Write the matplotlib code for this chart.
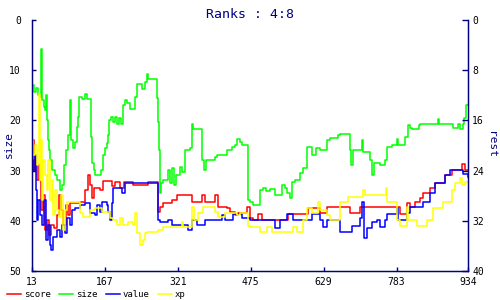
import matplotlib
matplotlib.use("Agg")
import matplotlib.pyplot as plt

navy = (0, 0, 0.5)
plt.rcParams['font.family'] = ['DejaVu Sans Mono']

# rank series, all in "size" axis units (0 top, 50 bottom)
score_x = [13, 15, 17, 19, 24, 28, 32, 36, 40, 45, 49, 53, 59, 66, 70, 74, 79, 85, 89, 93, 114, 125, 131, 136, 140, 144, 157, 163, 182, 188, 199, 207, 226, 258, 279, 283, 290, 309, 319, 351, 372, 378, 400, 406, 425, 431, 442, 448, 467, 474, 480, 490, 499, 554, 596, 621, 636, 685, 706, 790, 805, 812, 822, 833, 839, 854, 864, 885, 900, 921, 928, 934]
score_y = [25.9, 23.9, 29.9, 27.9, 31.9, 28.9, 37.8, 34.9, 41.8, 39.8, 42.8, 40.8, 41.4, 38.8, 34.9, 37.8, 40.8, 36.9, 38.8, 36.5, 36.3, 33.9, 30.9, 32.9, 35.5, 33.5, 33.9, 32.1, 33.1, 32.3, 33.5, 32.3, 32.9, 32.3, 38.2, 37.3, 36.5, 35.9, 34.9, 36.3, 34.9, 36.3, 34.9, 37.3, 37.5, 38.2, 38.8, 38.4, 37.3, 39.4, 39.8, 38.6, 39.8, 38.6, 37.5, 38.4, 37.3, 38.4, 37.3, 38.6, 36.5, 37.3, 36.3, 35.5, 34.5, 33.5, 32.5, 30.9, 29.9, 28.7, 29.9, 29.9]

size_x = [13, 17, 21, 26, 30, 32, 34, 38, 40, 43, 45, 47, 49, 51, 55, 62, 66, 72, 76, 81, 85, 89, 93, 95, 100, 104, 108, 110, 112, 119, 125, 129, 138, 140, 144, 146, 159, 163, 167, 171, 174, 176, 180, 184, 188, 193, 197, 201, 205, 209, 214, 220, 231, 235, 245, 252, 256, 258, 277, 279, 281, 283, 286, 290, 300, 305, 309, 313, 317, 326, 330, 336, 340, 347, 351, 353, 372, 376, 381, 400, 404, 425, 436, 442, 446, 452, 457, 469, 474, 480, 495, 501, 507, 516, 526, 541, 547, 552, 558, 562, 569, 579, 585, 594, 604, 613, 621, 636, 642, 659, 664, 685, 687, 691, 710, 712, 727, 731, 735, 748, 759, 763, 774, 784, 786, 801, 807, 812, 816, 830, 833, 871, 873, 902, 913, 917, 924, 926, 930, 934]
size_y = [12.9, 14.3, 13.5, 14.9, 15.3, 5.8, 15.9, 17.3, 17.9, 14.9, 19.9, 23.9, 25.9, 27.9, 29.9, 30.9, 31.9, 33.9, 32.9, 28.9, 25.9, 22.9, 15.9, 23.9, 25.5, 24.3, 21.3, 19.3, 15.3, 15.7, 14.7, 15.7, 23.3, 28.5, 29.9, 30.9, 29.9, 26.9, 25.5, 24.5, 22.9, 19.9, 19.3, 20.3, 19.3, 20.7, 19.5, 20.7, 16.9, 15.9, 16.5, 17.7, 15.3, 12.7, 13.7, 12.4, 10.8, 11.8, 15.5, 20.3, 25.9, 34.5, 32.5, 31.9, 29.9, 32.5, 29.5, 32.9, 30.9, 29.3, 30.3, 25.9, 25.9, 25.5, 20.7, 21.7, 27.9, 29.9, 27.9, 27.3, 26.9, 25.9, 25.3, 24.9, 23.7, 24.3, 24.9, 35.9, 36.3, 36.9, 33.9, 33.5, 34.1, 33.7, 34.9, 32.9, 33.5, 34.5, 35.5, 32.3, 31.9, 30.5, 29.5, 25.3, 26.9, 25.5, 25.9, 23.9, 23.5, 22.9, 22.7, 25.9, 28.9, 25.9, 23.9, 26.3, 27.9, 30.9, 28.5, 28.9, 27.9, 25.3, 24.9, 23.7, 24.9, 23.3, 20.9, 21.5, 21.7, 20.9, 20.7, 19.7, 20.7, 21.5, 20.7, 21.7, 20.7, 19.5, 16.9, 16.9]

value_x = [13, 15, 19, 21, 24, 26, 30, 34, 38, 43, 47, 51, 53, 57, 66, 72, 76, 83, 87, 93, 97, 104, 114, 125, 136, 146, 150, 157, 161, 171, 174, 178, 182, 184, 203, 209, 277, 279, 283, 300, 309, 343, 351, 362, 378, 414, 421, 438, 457, 474, 526, 537, 552, 564, 604, 621, 628, 636, 664, 689, 706, 710, 714, 721, 731, 742, 748, 759, 763, 784, 786, 805, 812, 839, 854, 864, 885, 896, 923, 934]
value_y = [27.9, 29.9, 26.9, 33.9, 39.8, 35.9, 38.8, 40.8, 35.9, 43.8, 40.8, 44.8, 45.8, 43.2, 41.8, 43.2, 40.8, 42.4, 39.4, 40.8, 37.8, 37.5, 36.9, 36.5, 38.4, 38.8, 36.9, 38.2, 36.3, 36.9, 38.2, 39.8, 36.5, 33.5, 34.5, 32.5, 32.5, 39.8, 40.2, 39.8, 40.8, 41.8, 39.8, 40.8, 39.8, 38.8, 39.8, 38.6, 39.4, 39.8, 41.4, 39.8, 38.6, 39.8, 38.6, 39.8, 41.2, 39.8, 42.2, 41.0, 39.4, 36.3, 43.4, 41.4, 40.2, 39.8, 41.2, 39.8, 38.6, 37.5, 39.8, 38.4, 37.3, 36.3, 34.5, 32.5, 30.9, 29.9, 30.7, 31.3]

xp_x = [13, 15, 19, 24, 26, 28, 30, 32, 34, 36, 40, 45, 47, 51, 55, 57, 62, 66, 70, 74, 79, 83, 87, 114, 121, 136, 146, 161, 178, 184, 193, 199, 205, 216, 226, 231, 235, 241, 247, 252, 256, 279, 290, 328, 330, 332, 351, 355, 364, 374, 400, 406, 421, 446, 452, 469, 474, 495, 509, 520, 564, 573, 585, 594, 604, 617, 621, 636, 642, 664, 680, 712, 716, 761, 763, 784, 790, 805, 807, 826, 847, 860, 881, 900, 906, 917, 921, 928, 934]
xp_y = [23.9, 26.9, 24.9, 28.9, 25.9, 14.7, 31.9, 23.9, 35.9, 27.9, 30.9, 33.9, 27.9, 35.9, 31.9, 38.8, 33.9, 37.8, 39.2, 34.9, 41.8, 37.8, 36.3, 38.4, 39.2, 37.8, 37.5, 38.2, 39.4, 39.8, 40.8, 39.4, 40.8, 40.2, 40.8, 38.4, 42.4, 44.8, 43.8, 42.4, 42.2, 41.8, 41.2, 41.2, 40.2, 41.2, 37.3, 39.8, 38.4, 37.3, 38.2, 39.2, 38.4, 38.8, 38.4, 41.0, 41.2, 42.2, 41.2, 42.2, 41.2, 42.2, 39.8, 37.5, 38.4, 36.3, 37.8, 38.8, 39.8, 36.3, 35.3, 33.9, 34.9, 33.5, 36.3, 39.8, 41.0, 37.3, 39.8, 41.0, 39.8, 37.5, 36.3, 33.9, 32.5, 31.5, 32.9, 32.3, 32.3]

series = [
    ("score", score_x, score_y, (1, 0, 0)),
    ("size", size_x, size_y, (0, 1, 0)),
    ("value", value_x, value_y, (0, 0, 1)),
    ("xp", xp_x, xp_y, (1, 1, 0)),
]

x_ticks = [13, 167, 321, 475, 629, 783, 934]
left_ticks = [0, 10, 20, 30, 40, 50]
right_ticks = [0, 8, 16, 24, 32, 40]

fig = plt.figure(figsize=(5, 3), dpi=100)
ax = fig.add_axes([0.064, 0.0967, 0.872, 0.8366])

for name, xs, ys, col in series:
    ax.plot(xs, ys, drawstyle="steps-post", color=col, linewidth=1.1, label=name)

ax.set_xlim(13, 934)
ax.set_ylim(50, 0)
ax.set_xticks(x_ticks)
ax.set_yticks(left_ticks)
ax.tick_params(direction="in", length=3, width=1, color=navy, labelsize=7, labelcolor="black", pad=4)
ax.tick_params(axis="y", pad=8)
for s in ["left", "bottom", "right"]:
    ax.spines[s].set_color(navy)
    ax.spines[s].set_linewidth(1)
ax.spines["top"].set_visible(False)

ax2 = ax.twinx()
ax2.set_ylim(40, 0)
ax2.set_yticks(right_ticks)
ax2.tick_params(direction="in", length=4, width=1, color=navy, labelsize=7, labelcolor="black", pad=3)
for s in ["left", "bottom", "right"]:
    ax2.spines[s].set_color(navy)
ax2.spines["top"].set_visible(False)

fig.text(0.017, 0.517, "size", color=navy, fontsize=8, rotation=90, ha="center", va="center")
fig.text(0.983, 0.517, "rest", color=navy, fontsize=8, rotation=270, ha="center", va="center")
fig.text(0.5, 0.975, "Ranks : 4:8", color=navy, fontsize=9.5, ha="center", va="top")

fig.legend(loc="lower left", bbox_to_anchor=(-0.003, -0.025), ncol=4, frameon=False,
           fontsize=6.5, handlelength=1.6, handletextpad=0.3, columnspacing=0.9)

fig.savefig("out.png", dpi=100)
